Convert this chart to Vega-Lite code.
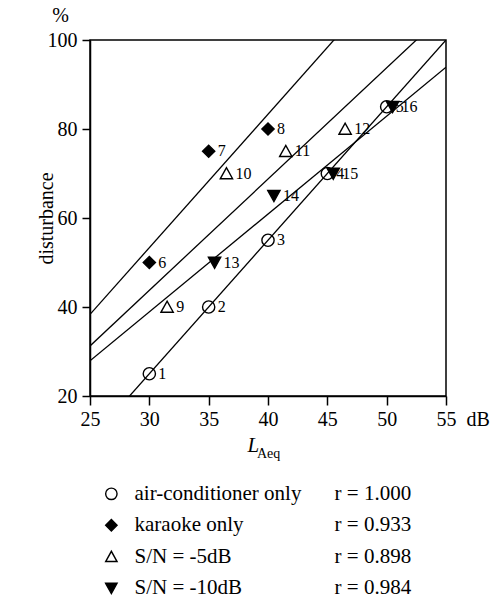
{
  "$schema": "https://vega.github.io/schema/vega-lite/v6.json",
  "padding": {"left": 35, "top": 5, "right": 0, "bottom": 0},
  "config": {
    "font": "'Liberation Serif', 'Times New Roman', 'DejaVu Serif', serif",
    "view": {"stroke": "black", "strokeWidth": 1.5},
    "axis": {
      "grid": false,
      "domainColor": "black",
      "domainWidth": 1.5,
      "tickColor": "black",
      "tickWidth": 1.5,
      "labelColor": "black",
      "labelFontSize": 20,
      "labelFont": "'Liberation Serif', 'Times New Roman', 'DejaVu Serif', serif",
      "titleColor": "black",
      "titleFontSize": 20,
      "titleFontWeight": "normal",
      "titleFont": "'Liberation Serif', 'Times New Roman', 'DejaVu Serif', serif"
    },
    "text": {"color": "black", "font": "'Liberation Serif', 'Times New Roman', 'DejaVu Serif', serif"}
  },
  "datasets": {
    "points": [
      {"id": 1, "series": "air-conditioner only", "dB": 30, "pct": 25},
      {"id": 2, "series": "air-conditioner only", "dB": 35, "pct": 40},
      {"id": 3, "series": "air-conditioner only", "dB": 40, "pct": 55},
      {"id": 4, "series": "air-conditioner only", "dB": 45, "pct": 70},
      {"id": 5, "series": "air-conditioner only", "dB": 50, "pct": 85},
      {"id": 6, "series": "karaoke only", "dB": 30, "pct": 50},
      {"id": 7, "series": "karaoke only", "dB": 35, "pct": 75},
      {"id": 8, "series": "karaoke only", "dB": 40, "pct": 80},
      {"id": 9, "series": "S/N = -5dB", "dB": 31.5, "pct": 40},
      {"id": 10, "series": "S/N = -5dB", "dB": 36.5, "pct": 70},
      {"id": 11, "series": "S/N = -5dB", "dB": 41.5, "pct": 75},
      {"id": 12, "series": "S/N = -5dB", "dB": 46.5, "pct": 80},
      {"id": 13, "series": "S/N = -10dB", "dB": 35.5, "pct": 50},
      {"id": 14, "series": "S/N = -10dB", "dB": 40.5, "pct": 65},
      {"id": 15, "series": "S/N = -10dB", "dB": 45.5, "pct": 70},
      {"id": 16, "series": "S/N = -10dB", "dB": 50.5, "pct": 85}
    ],
    "legend": [
      {"series": "air-conditioner only", "r": "r = 1.000"},
      {"series": "karaoke only", "r": "r = 0.933"},
      {"series": "S/N = -5dB", "r": "r = 0.898"},
      {"series": "S/N = -10dB", "r": "r = 0.984"}
    ]
  },
  "resolve": {"scale": {"x": "independent", "y": "independent"}},
  "spacing": 20,
  "vconcat": [
    {
      "width": 356,
      "height": 356,
      "layer": [
        {
          "data": {"name": "points"},
          "transform": [{"regression": "pct", "on": "dB", "groupby": ["series"], "extent": [25, 55]}],
          "mark": {"type": "line", "clip": true, "color": "black", "strokeWidth": 1.3},
          "encoding": {
            "x": {"field": "dB", "type": "quantitative", "scale": {"domain": [25, 55], "nice": false, "zero": false},
                  "axis": {"values": [25, 30, 35, 40, 45, 50, 55], "tickSize": 9, "labelPadding": 4, "title": null, "labelFlush": false, "labelOverlap": false}},
            "y": {"field": "pct", "type": "quantitative", "scale": {"domain": [20, 100], "nice": false, "zero": false},
                  "axis": {"values": [20, 40, 60, 80, 100], "tickSize": 8, "labelPadding": 5, "title": "disturbance", "titleX": -34, "titleY": 178, "labelFlush": false}},
            "detail": {"field": "series"}
          }
        },
        {
          "data": {"name": "points"},
          "mark": {"type": "point", "filled": true, "stroke": "black", "strokeWidth": 1.4, "opacity": 1, "size": 150},
          "encoding": {
            "x": {"field": "dB", "type": "quantitative"},
            "y": {"field": "pct", "type": "quantitative"},
            "shape": {"field": "series", "type": "nominal", "legend": null,
                      "scale": {"domain": ["air-conditioner only", "karaoke only", "S/N = -5dB", "S/N = -10dB"],
                                "range": ["circle", "diamond", "M-1,0.85L0,-0.95L1,0.85Z", "M-1,-0.85L0,0.95L1,-0.85Z"]}},
            "fill": {"field": "series", "type": "nominal", "legend": null,
                     "scale": {"domain": ["air-conditioner only", "karaoke only", "S/N = -5dB", "S/N = -10dB"],
                               "range": ["transparent", "black", "transparent", "black"]}}
          }
        },
        {
          "data": {"name": "points"},
          "mark": {"type": "text", "align": "left", "baseline": "middle", "dx": 9, "fontSize": 16},
          "encoding": {
            "x": {"field": "dB", "type": "quantitative"},
            "y": {"field": "pct", "type": "quantitative"},
            "text": {"field": "id", "type": "nominal"}
          }
        },
        {
          "data": {"values": [{}]},
          "mark": {"type": "text", "text": "%", "fontSize": 20, "align": "center", "baseline": "alphabetic", "dx": -29.5, "dy": -18},
          "encoding": {"x": {"datum": 25, "type": "quantitative"}, "y": {"datum": 100, "type": "quantitative"}}
        },
        {
          "data": {"values": [{}]},
          "mark": {"type": "text", "text": "L", "fontSize": 21, "fontStyle": "italic", "align": "left", "baseline": "alphabetic", "dx": -20.5, "dy": 56},
          "encoding": {"x": {"datum": 40, "type": "quantitative"}, "y": {"datum": 20, "type": "quantitative"}}
        },
        {
          "data": {"values": [{}]},
          "mark": {"type": "text", "text": "Aeq", "fontSize": 14, "align": "left", "baseline": "alphabetic", "dx": -11, "dy": 62},
          "encoding": {"x": {"datum": 40, "type": "quantitative"}, "y": {"datum": 20, "type": "quantitative"}}
        },
        {
          "data": {"values": [{}]},
          "mark": {"type": "text", "text": "dB", "fontSize": 20, "align": "left", "baseline": "alphabetic", "dx": 20.5, "dy": 30},
          "encoding": {"x": {"datum": 55, "type": "quantitative"}, "y": {"datum": 20, "type": "quantitative"}}
        }
      ]
    },
    {
      "width": 356,
      "height": 110,
      "view": {"stroke": null},
      "data": {"name": "legend"},
      "encoding": {
        "y": {"field": "series", "type": "nominal", "sort": ["air-conditioner only", "karaoke only", "S/N = -5dB", "S/N = -10dB"],
              "scale": {"padding": 0.25}, "axis": null}
      },
      "layer": [
        {
          "mark": {"type": "point", "filled": true, "stroke": "black", "strokeWidth": 1.4, "opacity": 1, "size": 130},
          "encoding": {
            "x": {"datum": 0.06, "type": "quantitative", "scale": {"domain": [0, 1], "nice": false, "zero": false}, "axis": null},
            "shape": {"field": "series", "type": "nominal", "legend": null,
                      "scale": {"domain": ["air-conditioner only", "karaoke only", "S/N = -5dB", "S/N = -10dB"],
                                "range": ["circle", "diamond", "M-1,0.85L0,-0.95L1,0.85Z", "M-1,-0.85L0,0.95L1,-0.85Z"]}},
            "fill": {"field": "series", "type": "nominal", "legend": null,
                     "scale": {"domain": ["air-conditioner only", "karaoke only", "S/N = -5dB", "S/N = -10dB"],
                               "range": ["transparent", "black", "transparent", "black"]}}
          }
        },
        {
          "mark": {"type": "text", "align": "left", "baseline": "middle", "fontSize": 21},
          "encoding": {"x": {"datum": 0.125, "type": "quantitative"}, "text": {"field": "series", "type": "nominal"}}
        },
        {
          "mark": {"type": "text", "align": "left", "baseline": "middle", "fontSize": 21},
          "encoding": {"x": {"datum": 0.687, "type": "quantitative"}, "text": {"field": "r", "type": "nominal"}}
        }
      ]
    }
  ]
}
